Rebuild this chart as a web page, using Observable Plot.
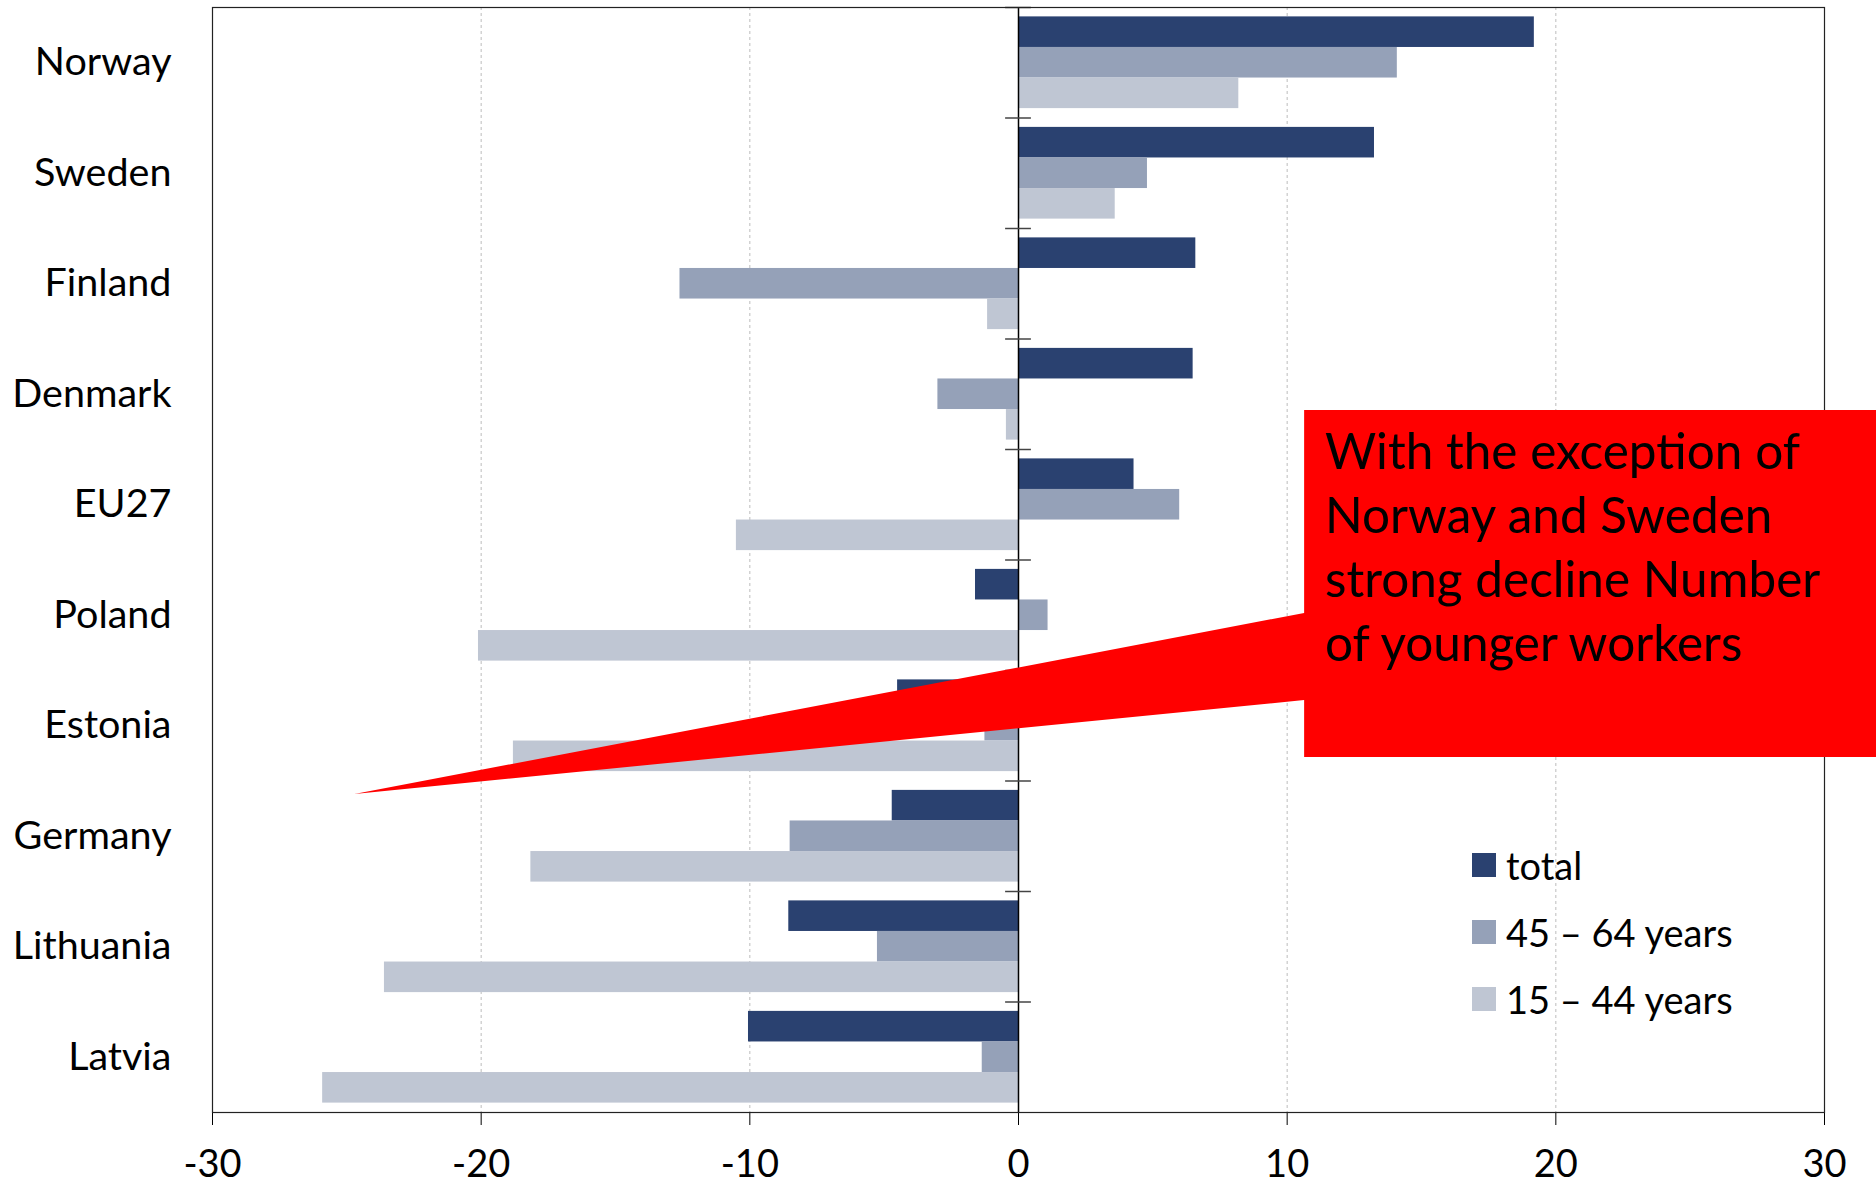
<!DOCTYPE html>
<html>
<head>
<meta charset="utf-8">
<script src="https://cdn.jsdelivr.net/npm/d3@7"></script>
<script src="https://cdn.jsdelivr.net/npm/@observablehq/plot@0.6"></script>
<style>
html, body { margin: 0; padding: 0; background: #fff; overflow: hidden; }
#wrap { position: relative; width: 1876px; height: 1185px; font-family: Lato, "Open Sans", sans-serif; }
#wrap svg.chart { display: block; }
.legend { position: absolute; left: 1472px; top: 831px; font-size: 38px; color: #000; }
.legend .row { display: flex; align-items: center; height: 67px; }
.legend .sw { width: 24px; height: 24px; margin-right: 10px; }
.callout-text { position: absolute; left: 1325px; top: 418px; font-size: 49.5px; line-height: 64px; color: #000; white-space: nowrap; }
</style>
</head>
<body>
<div id="wrap"></div>
<script>
// ---- data ----
const countries = ["Norway", "Sweden", "Finland", "Denmark", "EU27", "Poland", "Estonia", "Germany", "Lithuania", "Latvia"];
const seriesNames = ["total", "45 – 64 years", "15 – 44 years"];
const seriesColors = ["#2A4170", "#95A1B8", "#BFC6D3"];
const totalValues = [19.2, 13.25, 6.6, 6.5, 4.3, -1.6, -4.5, -4.7, -8.55, -10.05];
const age45to64Values = [14.1, 4.8, -12.6, -3.0, 6.0, 1.1, -1.25, -8.5, -5.25, -1.35];
const age15to44Values = [8.2, 3.6, -1.15, -0.45, -10.5, -20.1, -18.8, -18.15, -23.6, -25.9];
const xTicks = [-30, -20, -10, 0, 10, 20, 30];
const gridValues = [-20, -10, 10, 20];
const calloutLines = ["With the exception of", "Norway and Sweden", "strong decline Number", "of younger workers"];

// ---- layout ----
const W = 1876, H = 1185;
const mL = 212, mR = 52, mT = 7, mB = 73;
const step = (H - mT - mB) / countries.length;
const bandPad = step * 0.085;
const barH = (step - 2 * bandPad) / 3;

const rows = [];
[totalValues, age45to64Values, age15to44Values].forEach((vals, s) =>
  vals.forEach((v, i) => rows.push({country: countries[i], series: seriesNames[s], s, value: v}))
);

const barMarks = seriesNames.map((name, s) =>
  Plot.barX(rows.filter(d => d.s === s), {
    x1: d => 0, x2: "value", y: "country", fill: "series",
    insetTop: bandPad + s * barH,
    insetBottom: step - bandPad - (s + 1) * barH
  })
);

const chart = Plot.plot({
  width: W, height: H,
  marginLeft: mL, marginRight: mR, marginTop: mT, marginBottom: mB,
  style: {fontFamily: "Lato, 'Open Sans', sans-serif", fontSize: "39.5px", color: "#000", background: "#fff", overflow: "visible"},
  x: {domain: [-30, 30], ticks: xTicks, tickFormat: d => String(d), tickSize: 13, tickPadding: 25, label: null},
  y: {domain: countries, padding: 0, round: false, tickSize: 0, tickPadding: 41, label: null},
  color: {domain: seriesNames, range: seriesColors},
  marks: [
    Plot.ruleX(gridValues, {stroke: "#bdbdbd", strokeWidth: 1, strokeDasharray: "3,3"}),
    ...barMarks,
    Plot.ruleX([0], {stroke: "#000", strokeWidth: 1.5}),
    Plot.ruleY(countries, {y: d => d, x1: -0.48, x2: 0.48, dy: -step / 2, stroke: "#444", strokeWidth: 1.5}),
    Plot.frame({stroke: "#222", strokeWidth: 1.2})
  ]
});
chart.classList.add("chart");
d3.select(chart).selectAll('g[aria-label^="x-axis"] text').style("font-size", "38px");

const wrap = document.getElementById("wrap");
wrap.appendChild(chart);

// ---- legend (inside plot area, lower right) ----
const legend = document.createElement("div");
legend.className = "legend";
seriesNames.forEach((name, s) => {
  const row = document.createElement("div");
  row.className = "row";
  const sw = document.createElement("div");
  sw.className = "sw";
  sw.style.background = seriesColors[s];
  const label = document.createElement("span");
  label.textContent = name;
  row.appendChild(sw);
  row.appendChild(label);
  legend.appendChild(row);
});
wrap.appendChild(legend);

// ---- callout annotation ----
const xs = chart.scale("x");
const ov = d3.select(wrap).append("svg")
  .attr("width", W).attr("height", H)
  .style("position", "absolute").style("left", "0px").style("top", "0px")
  .style("pointer-events", "none");
const boxLeft = xs.apply(10.65), boxTop = 410, boxBottom = 757;
const tipX = xs.apply(-24.7), tipY = 794;
ov.append("polygon")
  .attr("points", [[tipX, tipY], [boxLeft, 613], [boxLeft, boxTop], [W, boxTop], [W, boxBottom], [boxLeft, boxBottom], [boxLeft, 700]].map(p => p.join(",")).join(" "))
  .attr("fill", "#FF0000");

const ct = document.createElement("div");
ct.className = "callout-text";
ct.innerHTML = calloutLines.join("<br>");
wrap.appendChild(ct);
</script>
</body>
</html>
